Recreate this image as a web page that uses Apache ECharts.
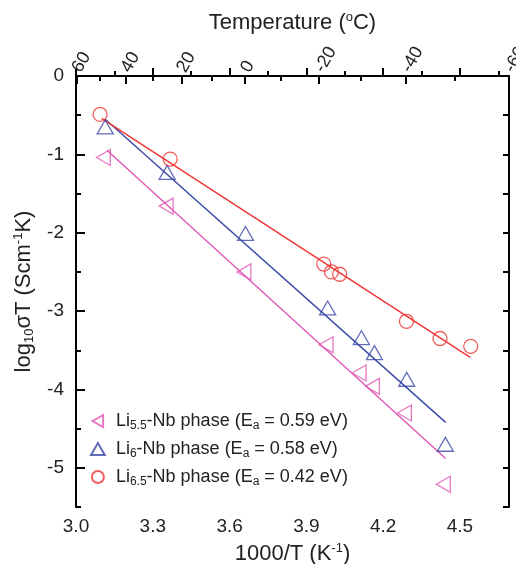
<!DOCTYPE html>
<html>
<head>
<meta charset="utf-8">
<script src="https://cdn.jsdelivr.net/npm/echarts@6/dist/echarts.min.js"></script>
<style>html,body{margin:0;padding:0;background:#fff}#c{width:516px;height:564px}</style>
</head>
<body>
<div id="c"></div>
<script>
// ---- data ----
const li55X = [3.107, 3.352, 3.656, 3.977, 4.106, 4.158, 4.283, 4.435];
const li55Y = [-1.04, -1.66, -2.50, -3.43, -3.79, -3.96, -4.30, -5.21];
const li6X  = [3.114, 3.356, 3.662, 3.983, 4.115, 4.166, 4.292, 4.443];
const li6Y  = [-0.65, -1.23, -2.01, -2.96, -3.34, -3.53, -3.87, -4.70];
const li65X = [3.094, 3.368, 3.968, 3.998, 4.030, 4.291, 4.422, 4.542];
const li65Y = [-0.49, -1.06, -2.40, -2.50, -2.53, -3.13, -3.35, -3.45];
const fit55X = [3.122, 4.444], fit55Y = [-0.95, -4.88];
const fit6X  = [3.113, 4.444], fit6Y  = [-0.55, -4.42];
const fit65X = [3.100, 4.540], fit65Y = [-0.54, -3.59];
const bottomTicks = [3.0, 3.3, 3.6, 3.9, 4.2, 4.5];
const bottomMinor = [3.15, 3.45, 3.75, 4.05, 4.35, 4.65];
const topTempsMajor = [60, 40, 20, 0, -20, -40, -60];
const topTempsMinor = [50, 30, 10, -10, -30, -50];
const yTicks = [-5, -4, -3, -2, -1, 0];
const yMinor = [-5.5, -4.5, -3.5, -2.5, -1.5, -0.5];
const legendNames = ['Li5.5', 'Li6', 'Li6.5'];
const legendLabels = {
  'Li5.5': 'Li{sub|5.5}-Nb phase (E{sub|a} = 0.59 eV)',
  'Li6':   'Li{sub|6}-Nb phase (E{sub|a} = 0.58 eV)',
  'Li6.5': 'Li{sub|6.5}-Nb phase (E{sub|a} = 0.42 eV)'
};

const toX = t => 1000 / (t + 273.15);
const XMIN = 3.0, XMAX = toX(-60);
const FONT = "'Liberation Sans', Arial, sans-serif";
const TXT = '#222';
const RED = '#f03434', BLUE = '#3a48a8', PINK = '#e058b4';
const zip = (a, b) => a.map((v, i) => [v, b[i]]);
const LEFT_TRI = 'path://M87,0 L0,50 L87,100 Z';
const UP_TRI = 'path://M0,87 L50,0 L100,87 Z';

const baseX = {type: 'value', min: XMIN, max: XMAX, splitLine: {show: false}};
const chart = echarts.init(document.getElementById('c'), null, {renderer: 'canvas'});
chart.setOption({
  animation: false,
  backgroundColor: '#fff',
  textStyle: {fontFamily: FONT},
  grid: {left: 76, right: 7, top: 76, bottom: 57, containLabel: false, outerBoundsMode: 'none'},
  xAxis: [
    Object.assign({}, baseX, {
      position: 'bottom',
      axisLine: {lineStyle: {color: '#000', width: 2}},
      axisTick: {inside: true, length: 8, lineStyle: {color: '#000', width: 2}, customValues: bottomTicks},
      axisLabel: {customValues: bottomTicks, color: TXT, fontSize: 19, margin: 10, fontFamily: FONT,
        formatter: v => v.toFixed(1)},
      name: '1000/T (K{sup|-1})', nameLocation: 'middle', nameGap: 35,
      nameTextStyle: {fontSize: 22, color: TXT, fontFamily: FONT,
        rich: {sup: {fontSize: 13, padding: [0, 0, 11, 0], color: TXT, fontFamily: FONT}}}
    }),
    Object.assign({}, baseX, {
      position: 'bottom',
      axisLine: {show: false},
      axisTick: {inside: true, length: 5, lineStyle: {color: '#000', width: 2}, customValues: bottomMinor},
      axisLabel: {show: false}
    }),
    Object.assign({}, baseX, {
      position: 'top',
      axisLine: {lineStyle: {color: '#000', width: 2}},
      axisTick: {inside: true, length: 8, lineStyle: {color: '#000', width: 2}, customValues: topTempsMajor.map(toX)},
      axisLabel: {customValues: topTempsMajor.map(toX), rotate: 60, color: TXT, fontSize: 18, margin: 5,
        fontFamily: FONT, formatter: v => String(Math.round(1000 / v - 273.15))},
      name: 'Temperature ({sup|o}C)', nameLocation: 'middle', nameGap: 41,
      nameTextStyle: {fontSize: 22, color: TXT, fontFamily: FONT,
        rich: {sup: {fontSize: 13, padding: [0, 0, 11, 0], color: TXT, fontFamily: FONT}}}
    }),
    Object.assign({}, baseX, {
      position: 'top',
      axisLine: {show: false},
      axisTick: {inside: true, length: 5, lineStyle: {color: '#000', width: 2}, customValues: topTempsMinor.map(toX)},
      axisLabel: {show: false}
    })
  ],
  yAxis: [
    {
      type: 'value', min: -5.5, max: 0, interval: 0.5, position: 'left', splitLine: {show: false},
      axisLine: {lineStyle: {color: '#000', width: 2}},
      axisTick: {inside: true, length: 9, lineStyle: {color: '#000', width: 2}, customValues: yTicks},
      axisLabel: {customValues: yTicks, color: TXT, fontSize: 19, margin: 12, fontFamily: FONT,
        formatter: v => String(Math.round(v))},
      name: 'log{sub|10}σT (Scm{sup|-1}K)', nameLocation: 'middle', nameGap: 38,
      nameTextStyle: {fontSize: 22, color: TXT, fontFamily: FONT,
        rich: {
          sub: {fontSize: 13, padding: [11, 0, 0, 0], color: TXT, fontFamily: FONT},
          sup: {fontSize: 13, padding: [0, 0, 11, 0], color: TXT, fontFamily: FONT}
        }}
    },
    {
      type: 'value', min: -5.5, max: 0, interval: 0.5, position: 'left', splitLine: {show: false},
      axisLine: {show: false},
      axisTick: {inside: true, length: 5, lineStyle: {color: '#000', width: 2}, customValues: yMinor},
      axisLabel: {show: false}
    },
    {
      type: 'value', min: -5.5, max: 0, interval: 0.5, position: 'right', splitLine: {show: false},
      axisLine: {lineStyle: {color: '#000', width: 2}},
      axisTick: {inside: true, length: 6, lineStyle: {color: '#000', width: 2}},
      axisLabel: {show: false}
    }
  ],
  legend: {
    data: legendNames, orient: 'vertical', left: 85, top: 407, itemGap: 8,
    itemWidth: 26, itemHeight: 12,
    formatter: n => legendLabels[n],
    textStyle: {fontSize: 18, color: TXT, fontFamily: FONT,
      rich: {sub: {fontSize: 12, padding: [10, 0, 0, 0], color: TXT, fontFamily: FONT}}}
  },
  series: [
    {name: 'fit55', type: 'line', data: zip(fit55X, fit55Y), showSymbol: false, symbol: 'none',
      lineStyle: {color: PINK, width: 1.4}, z: 2},
    {name: 'fit6', type: 'line', data: zip(fit6X, fit6Y), showSymbol: false, symbol: 'none',
      lineStyle: {color: BLUE, width: 1.4}, z: 2},
    {name: 'fit65', type: 'line', data: zip(fit65X, fit65Y), showSymbol: false, symbol: 'none',
      lineStyle: {color: RED, width: 1.4}, z: 2},
    {name: 'Li5.5', type: 'scatter', data: zip(li55X, li55Y), symbol: LEFT_TRI, symbolKeepAspect: true,
      symbolSize: 16, itemStyle: {color: 'rgba(0,0,0,0)', borderColor: PINK, borderWidth: 1.3}, z: 3},
    {name: 'Li6', type: 'scatter', data: zip(li6X, li6Y), symbol: UP_TRI, symbolKeepAspect: true,
      symbolSize: 16,
      itemStyle: {color: 'rgba(0,0,0,0)', borderColor: BLUE, borderWidth: 1.3}, z: 3},
    {name: 'Li6.5', type: 'scatter', data: zip(li65X, li65Y), symbol: 'circle', symbolSize: 14,
      symbolKeepAspect: true,
      itemStyle: {color: 'rgba(0,0,0,0)', borderColor: RED, borderWidth: 1.3}, z: 3}
  ]
});
</script>
</body>
</html>
